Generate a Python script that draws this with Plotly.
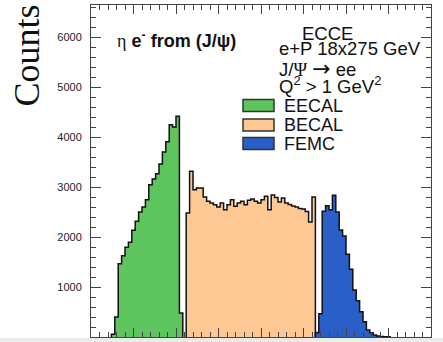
import plotly.graph_objects as go

# ---------------- data ----------------
BIN_WIDTH = 0.08
eecal_first_edge = -3.52
eecal_counts = [55, 400, 1466, 1626, 1793, 1893, 2133, 2313, 2500, 2600, 2746,
                3046, 3160, 3266, 3460, 3700, 3906, 4246, 4200, 4413, 480]
becal_first_edge = -1.76
becal_counts = [2480, 3313, 2946, 2980, 2980, 2800, 2713, 2680, 2646, 2600,
                2680, 2546, 2646, 2746, 2613, 2680, 2713, 2646, 2733, 2760,
                2713, 2680, 2746, 2813, 2546, 2840, 2790, 2700, 2780, 2680,
                2650, 2620, 2600, 2570, 2560, 2510, 2300, 2800]
femc_first_edge = 1.28
femc_counts = [90, 466, 2513, 2626, 2546, 2833, 2500, 2140, 2020, 1653, 1353,
               940, 727, 507, 307, 140, 87, 40, 20, 10, 5, 3]

y_tick_vals = [1000, 2000, 3000, 4000, 5000, 6000]
legend_labels = ["EECAL", "BECAL", "FEMC"]
colors = ["#5ec45e", "#fec894", "#2a5ec8"]

# ---------------- layout geometry ----------------
W, H = 443, 342
ML, MR, MT, MB = 91, 12, 5, 5
PW, PH = W - ML - MR, H - MT - MB


def px(x):
    return (x - ML) / PW


def py(y):
    return (H - MB - y) / PH


def step_xy(first_edge, counts):
    xs, ys = [first_edge], [0]
    for i, c in enumerate(counts):
        xs.append(first_edge + i * BIN_WIDTH)
        ys.append(c)
    xs.append(first_edge + len(counts) * BIN_WIDTH)
    ys.append(0)
    return xs, ys


fig = go.Figure()
for (edge, counts), name, col in zip(
        [(eecal_first_edge, eecal_counts), (becal_first_edge, becal_counts),
         (femc_first_edge, femc_counts)], legend_labels, colors):
    xs, ys = step_xy(edge, counts)
    fig.add_trace(go.Scatter(x=xs, y=ys, mode="lines", line_shape="hv",
                             fill="tozeroy", fillcolor=col, name=name,
                             line=dict(color="#111111", width=1.5),
                             showlegend=False, hoverinfo="skip"))

axis_common = dict(showline=True, linecolor="#444444", linewidth=1,
                   mirror="ticks", ticks="inside", tickcolor="#444444",
                   showgrid=False, zeroline=False)

fig.update_xaxes(range=[-4, 4], dtick=1, tick0=0, ticklen=9,
                 showticklabels=False,
                 minor=dict(dtick=0.2, tick0=0, ticks="inside", ticklen=5,
                            tickcolor="#444444"),
                 **axis_common)
fig.update_yaxes(range=[0, 6640], tickmode="array", tickvals=y_tick_vals,
                 ticklen=10, ticklabelstandoff=6,
                 tickfont=dict(family="Liberation Sans", size=11, color="#222222"),
                 minor=dict(dtick=200, tick0=0, ticks="inside", ticklen=5,
                            tickcolor="#444444"),
                 **axis_common)

SERIF = "font-family:'Liberation Serif'"
ann = []
font_sans = "Liberation Sans"
ann.append(dict(text="Counts", x=px(26.5), y=py(56), textangle=-90,
                xanchor="center",
                font=dict(family="Liberation Serif", size=36, color="#111111")))
ann.append(dict(text=f"<span style=\"{SERIF}\">η</span> <b>e<sup>-</sup> from (J/ψ)</b>",
                x=px(115), y=py(39),
                xanchor="left", font=dict(family=font_sans, size=18, color="#111111")))
ann.append(dict(text="ECCE", x=px(300), y=py(33), xanchor="left",
                font=dict(family=font_sans, size=18.5, color="#111111")))
ann.append(dict(text="e+P 18x275 GeV", x=px(276.5), y=py(48.5), xanchor="left",
                font=dict(family=font_sans, size=18.5, color="#111111")))
ann.append(dict(text=(f"J/<span style=\"{SERIF}\">Ψ</span> "
                      "<span style=\"font-family:'DejaVu Sans';font-size:22px\">→</span> ee"),
                x=px(276.5), y=py(68), xanchor="left",
                font=dict(family=font_sans, size=18.5, color="#111111")))
ann.append(dict(text="Q<sup>2</sup> > 1 GeV<sup>2</sup>", x=px(276.5), y=py(85),
                xanchor="left", font=dict(family=font_sans, size=18.5, color="#111111")))

shapes = []
leg_centers = [105.5, 125, 143.5]
for lab, col, cy in zip(legend_labels, colors, leg_centers):
    shapes.append(dict(type="rect", xref="paper", yref="paper",
                       x0=px(243), x1=px(274), y0=py(cy + 6), y1=py(cy - 6),
                       fillcolor=col, line=dict(color="#333333", width=1.5)))
    ann.append(dict(text=lab, x=px(281.5), y=py(cy), xanchor="left",
                    font=dict(family=font_sans, size=18, color="#111111")))

# grey strip at the very bottom of the picture
shapes.append(dict(type="rect", xref="paper", yref="paper", x0=px(0), x1=px(W),
                   y0=py(H), y1=py(338), fillcolor="#ececec", line=dict(width=0)))

for a in ann:
    a.setdefault("xref", "paper")
    a.setdefault("yref", "paper")
    a.setdefault("showarrow", False)
    a.setdefault("yanchor", "middle")

fig.update_layout(width=W, height=H, margin=dict(l=ML, r=MR, t=MT, b=MB),
                  paper_bgcolor="white", plot_bgcolor="white",
                  annotations=ann, shapes=shapes, showlegend=False)

fig.write_html("out.html", config={"displayModeBar": False},
               post_script="document.body.style.margin='0';"
                           "document.body.style.overflow='hidden';")
